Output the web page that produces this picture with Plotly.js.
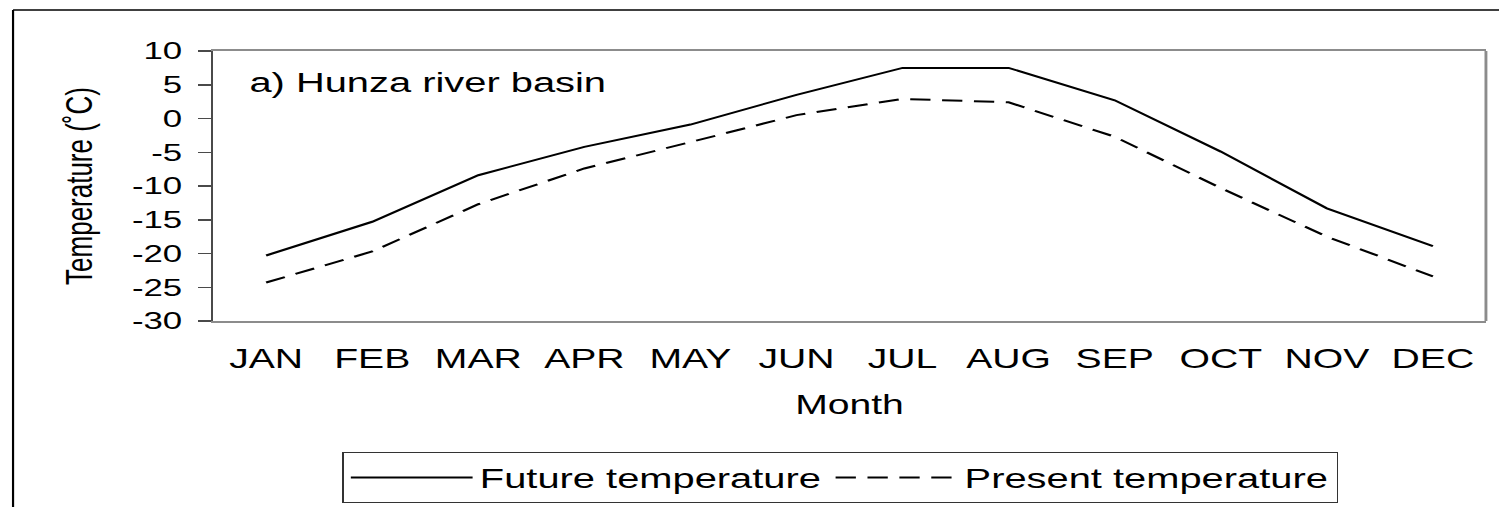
<!DOCTYPE html>
<html>
<head>
<meta charset="utf-8">
<script src="https://cdn.plot.ly/plotly-3.0.1.min.js"></script>
<style>
  html, body { margin: 0; padding: 0; background: #ffffff; }
  #wrap { width: 1499px; height: 507px; overflow: hidden; position: relative; }
  #plot { width: 1034px; height: 507px; transform: scaleX(1.4497); transform-origin: 0 0; }
</style>
</head>
<body>
<div id="wrap"><div id="plot"></div></div>
<script>
// ---- data ----
const months = ['JAN','FEB','MAR','APR','MAY','JUN','JUL','AUG','SEP','OCT','NOV','DEC'];
const futureTemp  = [-20.3, -15.3, -8.4, -4.2, -0.9, 3.5, 7.5, 7.5, 2.7, -4.9, -13.3, -18.9];
const presentTemp = [-24.3, -19.7, -12.7, -7.4, -3.5, 0.5, 2.9, 2.4, -2.7, -10.3, -17.5, -23.4];
const seriesNames = ['Future temperature', 'Present temperature'];
const yTickVals = [-30, -25, -20, -15, -10, -5, 0, 5, 10];
const panelLabel = 'a) Hunza river basin';

// ---- layout geometry (unstretched px) ----
const W = 1034, H = 507;
const M = { l: 147, r: 9, t: 51, b: 186 };
const pw = W - M.l - M.r, ph = H - M.t - M.b;
const px = v => (v - M.l) / pw;        // px -> paper x
const py = v => (H - M.b - v) / ph;    // px -> paper y

const FONT = '"Liberation Sans", Arial, Helvetica, sans-serif';

const traces = [
  { x: months, y: futureTemp, name: seriesNames[0], type: 'scatter', mode: 'lines',
    line: { color: '#000000', width: 2 } },
  { x: months, y: presentTemp, name: seriesNames[1], type: 'scatter', mode: 'lines',
    line: { color: '#000000', width: 2, dash: '14px,8px' } }
];

const layout = {
  width: W, height: H,
  margin: M,
  paper_bgcolor: '#ffffff', plot_bgcolor: '#ffffff',
  font: { family: FONT, color: '#000000', size: 24 },
  showlegend: true,
  xaxis: {
    type: 'category', range: [-0.5, 11.5], automargin: false,
    showgrid: false, zeroline: false,
    showline: true, linecolor: '#8c8c8c', linewidth: 2, mirror: true,
    ticks: '', tickfont: { size: 27, family: FONT },
    ticklabelstandoff: 13,
    title: { text: 'Month', font: { size: 27, family: FONT }, standoff: 22 }
  },
  yaxis: {
    range: [-30, 10], tickvals: yTickVals, ticktext: yTickVals.map(String), automargin: false,
    showgrid: false, zeroline: false,
    showline: true, linecolor: '#4a4a4a', linewidth: 1.5,
    ticks: 'outside', ticklen: 9, tickwidth: 1.5, tickcolor: '#4a4a4a',
    tickfont: { size: 24, family: FONT },
    ticklabelstandoff: 6,
    title: { text: 'Temperature (˚C)', font: { size: 26, family: FONT }, standoff: 19 }
  },
  legend: {
    orientation: 'h', xref: 'container', yref: 'container',
    x: 236 / W, y: 1 - 452 / H, xanchor: 'left', yanchor: 'top',
    bordercolor: '#333333', borderwidth: 1, bgcolor: '#ffffff',
    font: { size: 27.5, family: FONT }, itemwidth: 84
  },
  annotations: [
    { text: panelLabel, xref: 'paper', yref: 'paper', x: px(170), y: py(83),
      xanchor: 'left', yanchor: 'middle', showarrow: false,
      font: { size: 27.5, family: FONT } }
  ],
  shapes: [
    // plot-area right border (gray)
    { type: 'line', xref: 'paper', yref: 'paper', x0: 1, x1: 1, y0: 0, y1: 1,
      line: { color: '#8c8c8c', width: 2 } },
    // outer chart frame: left and top edges
    { type: 'line', xref: 'paper', yref: 'paper', x0: px(9), x1: px(9), y0: py(10), y1: py(H + 5),
      line: { color: '#000000', width: 1.5 } },
    { type: 'line', xref: 'paper', yref: 'paper', x0: px(9), x1: px(W + 5), y0: py(10), y1: py(10),
      line: { color: '#000000', width: 1.5 } }
  ]
};

Plotly.newPlot('plot', traces, layout, { displayModeBar: false, staticPlot: true });
</script>
</body>
</html>
